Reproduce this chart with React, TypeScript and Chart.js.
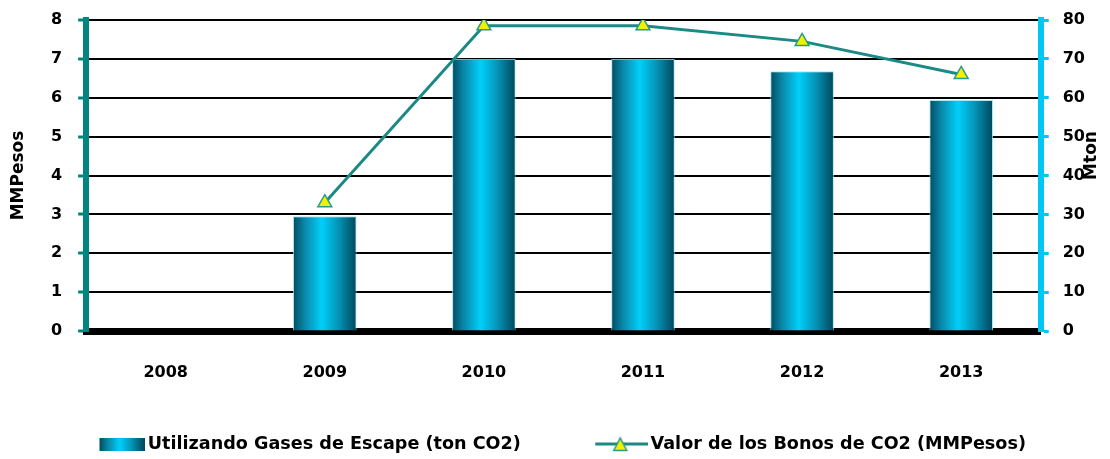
import React, { useEffect, useRef } from "react";
import { Chart, registerables } from "chart.js";

Chart.register(...registerables);

// ---- Data ----
const categories = ["2008", "2009", "2010", "2011", "2012", "2013"];
const gasesEscape = [null, 29.5, 70, 70, 66.8, 59.4]; // Mton (right axis)
const valorBonos = [null, 3.3, 7.85, 7.85, 7.45, 6.6]; // MMPesos (left axis)
const barLabel = "Utilizando Gases de Escape (ton CO2)";
const lineLabel = "Valor de los Bonos de CO2 (MMPesos)";
const leftTitle = "MMPesos";
const rightTitle = "Mton";
const leftMax = 8;
const rightMax = 80;

// ---- Styles ----
const FONT = "'DejaVu Sans', sans-serif";
const LINE_COLOR = "#1c8a84";
const LEFT_AXIS_COLOR = "#00857f";
const RIGHT_AXIS_COLOR = "#00c6f2";
const POINT_FILL = "#f2f200";
const POINT_BORDER = "#2a9a8c";

function addBarStops(g: CanvasGradient) {
  g.addColorStop(0, "#004c62");
  g.addColorStop(0.18, "#0a86a6");
  g.addColorStop(0.45, "#00d0fa");
  g.addColorStop(0.72, "#0592b4");
  g.addColorStop(1, "#00465a");
}

function makeBarLegendImage() {
  const c = document.createElement("canvas");
  c.width = 109;
  c.height = 13;
  const g = c.getContext("2d")!;
  const grad = g.createLinearGradient(64, 0, 109, 0);
  addBarStops(grad);
  g.fillStyle = grad;
  g.fillRect(64, 0, 45, 13);
  return c;
}

function makeLineLegendImage() {
  const c = document.createElement("canvas");
  c.width = 111;
  c.height = 16;
  const g = c.getContext("2d")!;
  g.strokeStyle = LINE_COLOR;
  g.lineWidth = 3;
  g.beginPath();
  g.moveTo(58, 8);
  g.lineTo(111, 8);
  g.stroke();
  const cx = 83;
  g.beginPath();
  g.moveTo(cx, 2);
  g.lineTo(cx + 6.5, 14.5);
  g.lineTo(cx - 6.5, 14.5);
  g.closePath();
  g.fillStyle = POINT_FILL;
  g.fill();
  g.lineWidth = 1.5;
  g.strokeStyle = POINT_BORDER;
  g.stroke();
  return c;
}

const rightTitlePlugin = {
  id: "rightTitle",
  afterDraw(chart: any) {
    const { ctx, chartArea } = chart;
    ctx.save();
    ctx.font = `bold 17px ${FONT}`;
    ctx.fillStyle = "#000";
    ctx.textAlign = "center";
    ctx.textBaseline = "middle";
    ctx.translate(chart.width - 18, (chartArea.top + chartArea.bottom) / 2 - 20);
    ctx.rotate(-Math.PI / 2);
    ctx.fillText(rightTitle, 0, 0);
    ctx.restore();
  },
};

const noVerticalPad = (scale: any) => {
  scale.paddingTop = 0;
  scale.paddingBottom = 0;
};

export default function App() {
  const ref = useRef<HTMLCanvasElement | null>(null);

  useEffect(() => {
    document.body.style.margin = "0";
    document.body.style.overflow = "hidden";
    const canvas = ref.current;
    if (!canvas) return;
    const barImg = makeBarLegendImage();
    const lineImg = makeLineLegendImage();

    const chart = new Chart(canvas, {
      data: {
        labels: categories,
        datasets: [
          {
            type: "line",
            label: lineLabel,
            data: valorBonos as any,
            yAxisID: "y",
            order: 0,
            borderColor: LINE_COLOR,
            borderWidth: 3,
            backgroundColor: POINT_FILL,
            pointStyle: "triangle",
            pointRadius: 8,
            pointBackgroundColor: POINT_FILL,
            pointBorderColor: POINT_BORDER,
            pointBorderWidth: 1.5,
            tension: 0,
            spanGaps: false,
          },
          {
            type: "bar",
            label: barLabel,
            data: gasesEscape as any,
            yAxisID: "y1",
            order: 1,
            categoryPercentage: 0.8,
            barPercentage: 0.5,
            borderWidth: 1,
            borderColor: "rgba(150,225,240,0.8)",
            backgroundColor: (c: any) => {
              const ch = c.chart;
              const xs = ch.scales && ch.scales.x;
              if (!xs || c.type !== "data" || !xs.width) return "#00b8e0";
              const cx = xs.getPixelForValue(c.dataIndex);
              const w = (xs.width / categories.length) * 0.4;
              const g = ch.ctx.createLinearGradient(cx - w / 2, 0, cx + w / 2, 0);
              addBarStops(g);
              return g;
            },
          },
        ],
      },
      options: {
        responsive: false,
        animation: false,
        layout: { padding: { left: 18, right: 11, top: 20, bottom: 0 } },
        plugins: {
          tooltip: { enabled: false },
          legend: {
            position: "bottom",
            align: "start",
            maxHeight: 46.8,
            labels: {
              usePointStyle: true,
              pointStyleWidth: 98,
              padding: 23,
              color: "#000",
              font: { family: FONT, size: 17.6, weight: "bold" },
              generateLabels: () => [
                {
                  text: barLabel,
                  pointStyle: barImg as any,
                  fillStyle: "transparent",
                  strokeStyle: "transparent",
                  lineWidth: 0,
                  hidden: false,
                  datasetIndex: 1,
                  fontColor: "#000",
                } as any,
                {
                  text: lineLabel,
                  pointStyle: lineImg as any,
                  fillStyle: "transparent",
                  strokeStyle: "transparent",
                  lineWidth: 0,
                  hidden: false,
                  datasetIndex: 0,
                  fontColor: "#000",
                } as any,
              ],
            },
          },
        },
        scales: {
          x: {
            type: "category",
            offset: true,
            z: 1,
            grid: { display: true, drawOnChartArea: false, drawTicks: false, color: "transparent" },
            border: { display: true, color: "#000", width: 7 },
            ticks: { color: "#000", padding: 32, font: { family: FONT, size: 16, weight: "bold" } },
            afterFit: (scale: any) => {
              scale.height = 81.2;
            },
          },
          y: {
            type: "linear",
            position: "left",
            min: 0,
            max: leftMax,
            afterFit: noVerticalPad,
            ticks: { stepSize: 1, color: "#000", padding: 16, font: { family: FONT, size: 16, weight: "bold" } },
            grid: {
              color: "#000",
              lineWidth: 2,
              drawTicks: true,
              tickLength: 8,
              tickColor: LEFT_AXIS_COLOR,
              tickWidth: 3,
            },
            border: { display: true, color: LEFT_AXIS_COLOR, width: 6 },
            title: {
              display: true,
              text: leftTitle,
              color: "#000",
              font: { family: FONT, size: 17, weight: "bold" },
              padding: { top: -10, bottom: 6.6 },
            },
          },
          y1: {
            type: "linear",
            position: "right",
            min: 0,
            max: rightMax,
            afterFit: noVerticalPad,
            ticks: { stepSize: 10, color: "#000", padding: 14, font: { family: FONT, size: 16, weight: "bold" } },
            grid: {
              drawOnChartArea: false,
              drawTicks: true,
              tickLength: 8,
              tickColor: RIGHT_AXIS_COLOR,
              tickWidth: 3,
            },
            border: { display: true, color: RIGHT_AXIS_COLOR, width: 6 },
          },
        },
      } as any,
      plugins: [rightTitlePlugin],
    });

    return () => chart.destroy();
  }, []);

  return (
    <div style={{ width: 1110, height: 459 }}>
      <canvas ref={ref} width={1110} height={459} />
    </div>
  );
}
